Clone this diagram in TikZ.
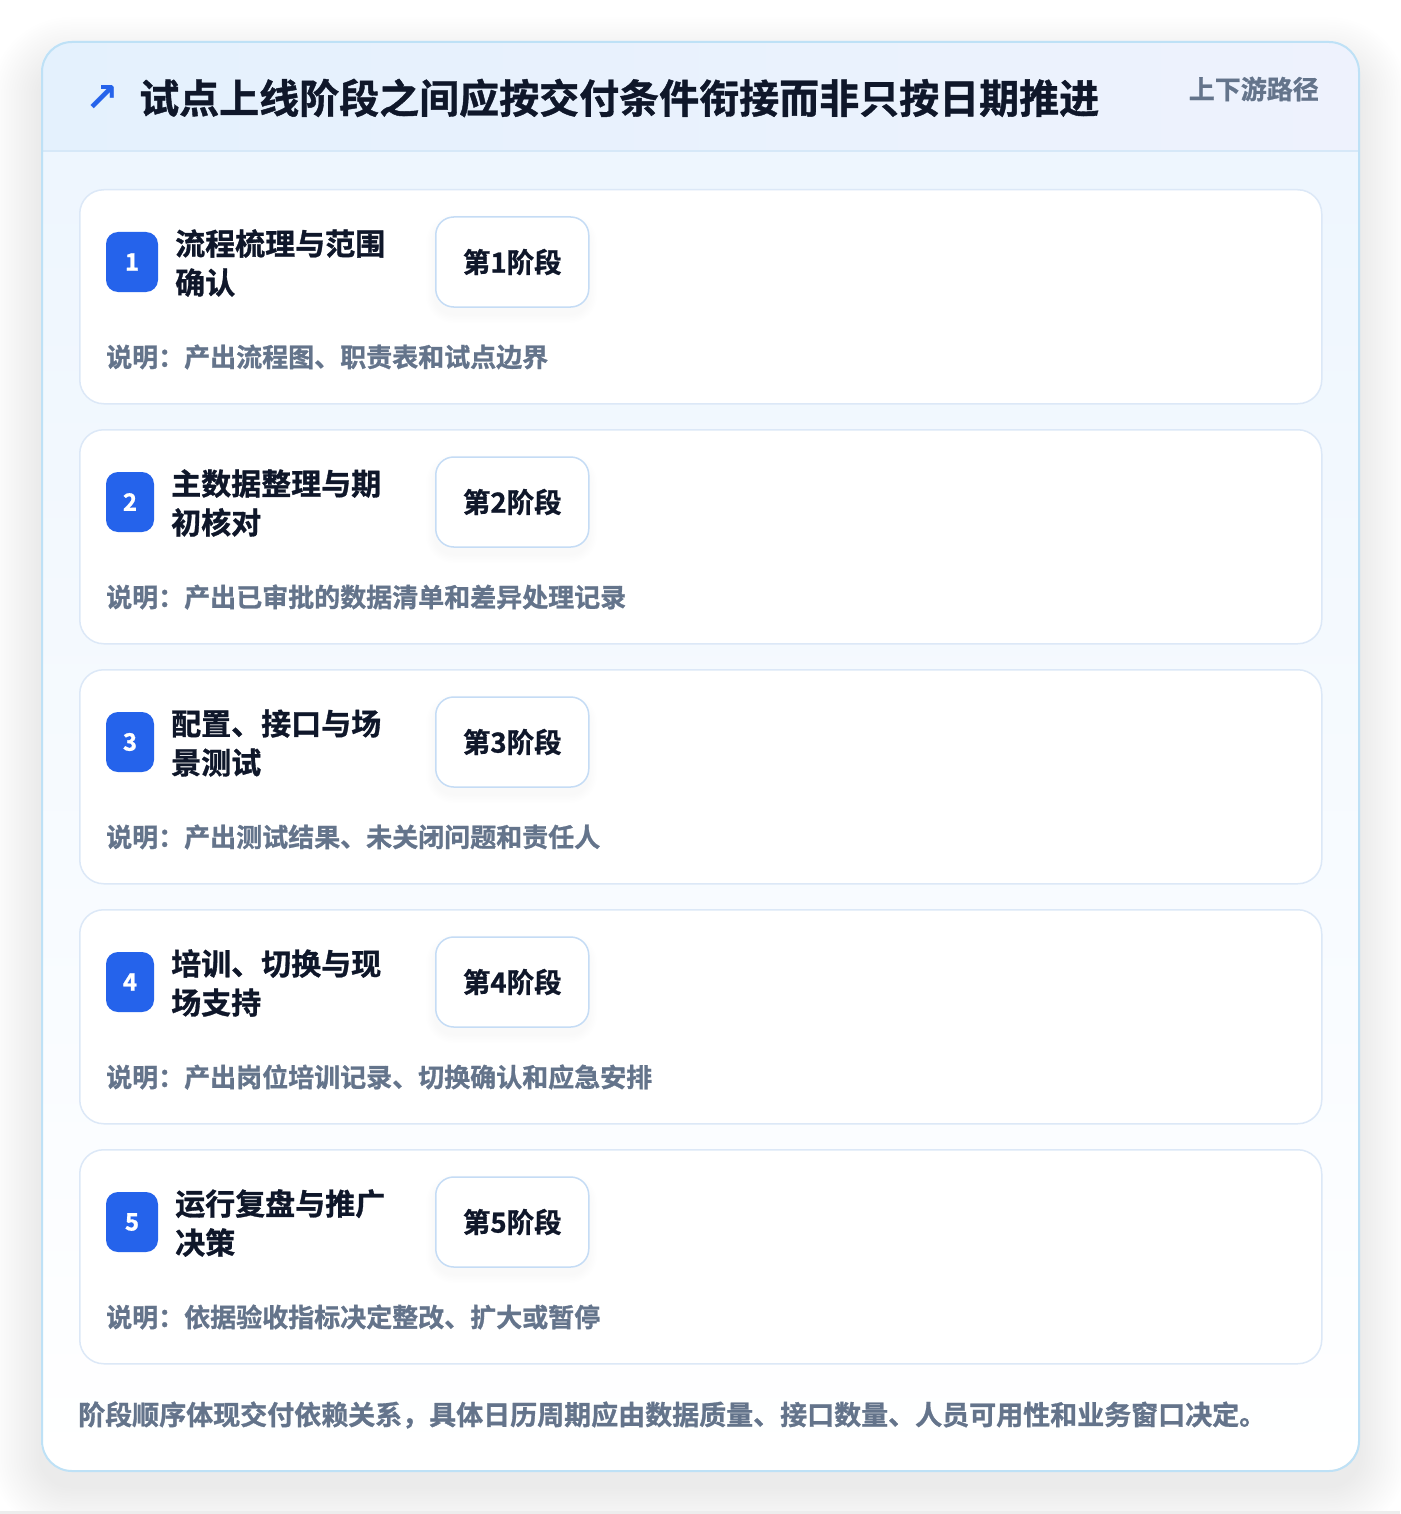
\documentclass[tikz,border=0pt]{standalone}
\usepackage{fontspec}
\setmainfont{Noto Sans CJK SC}[BoldFont={Noto Sans CJK SC Bold}, BoldFeatures={FakeBold=1}]
\newfontfamily\dejavu{DejaVu Sans Bold}
\definecolor{outerborder}{HTML}{BEE1F6}
\definecolor{headL}{HTML}{E4F1FD}
\definecolor{headR}{HTML}{EEF2FD}
\definecolor{headline}{HTML}{D6E8F8}
\definecolor{bodyTop}{HTML}{EEF6FE}
\definecolor{cardborder}{HTML}{DCE8F7}
\definecolor{pillborder}{HTML}{C5DCF5}
\definecolor{badgeblue}{HTML}{2563EB}
\definecolor{titletext}{HTML}{0F172A}
\definecolor{mutedtext}{HTML}{64748B}
\tikzset{
  cardbox/.style={draw=cardborder, line width=1.5pt, fill=white, rounded corners=24pt, anchor=north west, minimum width=1242pt, minimum height=214pt, inner sep=0pt},
  badgebox/.style={fill=badgeblue, rounded corners=12pt, minimum height=60pt, inner sep=0pt, text=white, font=\fontsize{24}{26}\selectfont\bfseries},
  titletxt/.style={anchor=west, align=left, inner sep=0pt, text=titletext, font=\fontsize{30}{39}\selectfont\bfseries},
  pillbox/.style={draw=pillborder, line width=1.5pt, fill=white, rounded corners=18pt, anchor=west, minimum width=153pt, minimum height=90pt, inner sep=0pt, text=titletext, font=\fontsize{27.5}{30}\selectfont\bfseries},
  desctxt/.style={anchor=west, inner sep=0pt, text=mutedtext, font=\fontsize{26}{30}\selectfont\bfseries},
}
\begin{document}
\begin{tikzpicture}[x=1pt,y=-1pt]
\useasboundingbox (0,0) rectangle (1400,1514);
\fill[white] (0,0) rectangle (1400,1514);
% shadow of outer card
\foreach \s in {1,...,20}{
  \pgfmathsetmacro{\rr}{30+2.5*\s}
  \fill[black, opacity=0.004, rounded corners=\rr pt] ({41-2.5*\s},{41-2.5*\s+26}) rectangle ({1358+2.5*\s},{1470+2.5*\s+16});
}
\fill[black!7] (0,1511) rectangle (1400,1514);
% outer card
\begin{scope}
  \clip[rounded corners=30pt] (41,41) rectangle (1358,1470);
  \fill[white] (41,41) rectangle (1358,1470);
  \shade[left color=headL, right color=headR] (41,41) rectangle (1358,151);
  \shade[top color=bodyTop, bottom color=white] (41,151) rectangle (1358,1470);
  \draw[headline, line width=1.5pt] (41,151) -- (1358,151);
\end{scope}
\node[draw=outerborder, line width=2pt, rounded corners=30pt, anchor=north west, minimum width=1317pt, minimum height=1429pt, inner sep=0pt] (outer) at (41,41) {};
% header
\node[inner sep=0pt, text=badgeblue, font=\dejavu\fontsize{40}{42}\selectfont] (icon) at (102,99) {↗};
\node[anchor=west, inner sep=0pt, text=titletext, font=\fontsize{40}{44}\selectfont\bfseries] (title) at (139,98) {试点上线阶段之间应按交付条件衔接而非只按日期推进};
\node[anchor=east, inner sep=0pt, text=mutedtext, font=\fontsize{26}{30}\selectfont\bfseries] (tag) at (1319,89) {上下游路径};
% cards
\foreach \i/\bx/\bw/\tx/\la/\lb/\desc in {
  1/132/52/175/流程梳理与范围/确认/产出流程图、职责表和试点边界,
  2/130/48/171/主数据整理与期/初核对/产出已审批的数据清单和差异处理记录,
  3/130/48/171/配置、接口与场/景测试/产出测试结果、未关闭问题和责任人,
  4/130/48/171/培训、切换与现/场支持/产出岗位培训记录、切换确认和应急安排,
  5/132/52/175/运行复盘与推广/决策/依据验收指标决定整改、扩大或暂停}{
  \pgfmathsetmacro{\cy}{189+240*(\i-1)}
  \node[cardbox] (card\i) at (79,\cy) {};
  \node[badgebox, minimum width=\bw pt] (badge\i) at (\bx,{\cy+73}) {\i};
  \node[titletxt] (ttl\i) at (\tx,{\cy+74}) {{\la}\\{\lb}};
  \foreach \s in {1,...,6}{
    \pgfmathsetmacro{\rr}{18+1.5*\s}
    \fill[black, opacity=0.004, rounded corners=\rr pt] ({435-1.5*\s},{\cy+28-1.5*\s+7}) rectangle ({588+1.5*\s},{\cy+118+1.5*\s+7});
  }
  \node[pillbox] (pill\i) at (435,{\cy+73}) {第{\i}阶段};
  \node[desctxt] (desc\i) at (106,{\cy+168}) {说明：{\desc}};
}
% footer
\node[anchor=west, inner sep=0pt, text=mutedtext, font=\fontsize{27}{30}\selectfont\bfseries] (foot) at (78,1415) {阶段顺序体现交付依赖关系，具体日历周期应由数据质量、接口数量、人员可用性和业务窗口决定。};
\end{tikzpicture}
\end{document}
